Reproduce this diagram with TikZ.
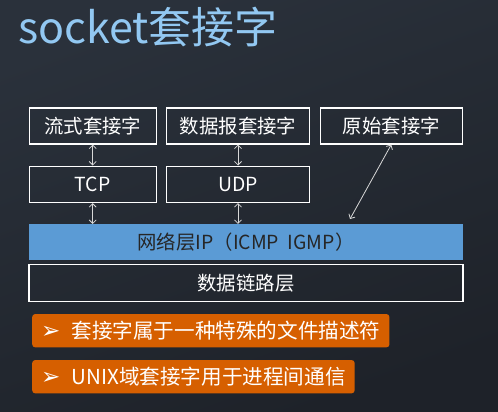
\documentclass[tikz,border=0pt]{standalone}
\usepackage{fontspec}
\usepackage{xcolor}
\usepackage{tikz}
\usetikzlibrary{arrows.meta}
\newfontfamily\cjk{Noto Sans CJK SC}
\newfontfamily\symfont{DejaVu Sans}
\definecolor{bgtop}{HTML}{2A313B}
\definecolor{bgbot}{HTML}{1E2229}
\definecolor{titleblue}{HTML}{92C8F2}
\definecolor{ipblue}{HTML}{5B9BD5}
\definecolor{noteorange}{HTML}{D65F00}
\definecolor{arrowgray}{HTML}{D8D8D8}
\tikzset{
	layer/.style={draw=white,line width=1.1pt,text=white,inner sep=0pt,
		font=\cjk\fontsize{19.4}{22}\selectfont},
	note/.style={fill=noteorange,rounded corners=3pt,text=white,inner xsep=9pt,
		inner ysep=0pt,minimum height=33.3pt,anchor=west,align=left,
		font=\cjk\fontsize{20.6}{24}\selectfont},
	link/.style={{Straight Barb[length=3.5pt,width=7pt]}-{Straight Barb[length=3.5pt,width=7pt]},
		arrowgray,line width=0.8pt}
}
\begin{document}
\begin{tikzpicture}[x=1pt,y=-1pt]
	\useasboundingbox (0,0) rectangle (498,412);
	\shade[top color=bgtop,bottom color=bgbot,shading angle=20] (0,0) rectangle (498,412);
	\node[anchor=west,inner sep=0pt,text=titleblue,font=\cjk\fontsize{43}{50}\selectfont] (title) at (18,27) {socket套接字};
	
	% socket types
	\node[layer,minimum width=127pt,minimum height=36pt] (stream) at (92.7,126) {流式套接字};
	\node[layer,minimum width=143.5pt,minimum height=36pt] (dgram) at (238,126) {数据报套接字};
	\node[layer,minimum width=142.5pt,minimum height=36pt] (raw) at (391.3,126) {原始套接字};
	
	% transport
	\node[layer,minimum width=127pt,minimum height=36.5pt] (tcp) at (92.7,184.3) {TCP};
	\node[layer,minimum width=143.5pt,minimum height=36.5pt] (udp) at (238,184.3) {UDP};
	
	% network and link
	\node[fill=ipblue,text=black!85,inner sep=0pt,minimum width=434pt,minimum height=35.7pt,
		font=\cjk\fontsize{19.4}{22}\selectfont] (ip) at (246,242) {网络层IP（ICMP\ \ IGMP）};
	\node[layer,minimum width=434pt,minimum height=36.7pt] (link) at (246,282.7) {数据链路层};
	
	\draw[link] (stream.south) -- (tcp.north);
	\draw[link] (tcp.south) -- (tcp.south |- ip.north);
	\draw[link] (dgram.south) -- (udp.north);
	\draw[link] (udp.south) -- (udp.south |- ip.north);
	\coordinate (rawend) at (350,219);
	\draw[link] (rawend) -- (raw.south);
	
	% notes
	\node[note,minimum width=349.7pt] (fd) at (32,330.7) {{\symfont\fontsize{23}{24}\selectfont ➢}\hspace{11pt}套接字属于一种特殊的文件描述符};
	\node[note,minimum width=317.7pt] (unix) at (32,376.7) {{\symfont\fontsize{23}{24}\selectfont ➢}\hspace{11pt}UNIX域套接字用于进程间通信};
\end{tikzpicture}
\end{document}
